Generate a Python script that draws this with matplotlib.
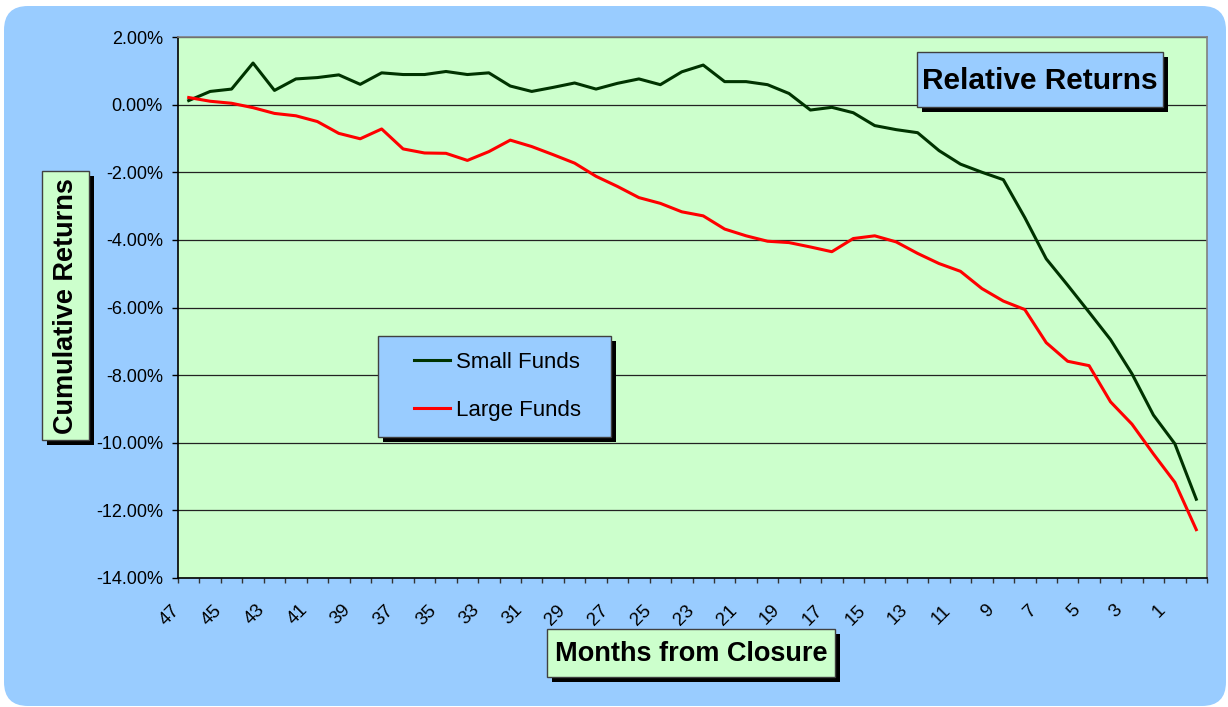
import numpy as np
import matplotlib
matplotlib.use("Agg")
import matplotlib.pyplot as plt
from matplotlib.patches import FancyBboxPatch, Rectangle
from matplotlib.transforms import ScaledTranslation

plt.rcParams['font.family'] = ['Liberation Sans', 'DejaVu Sans']

# ---------------------------
# data (cumulative returns, %), months counted down to closure
# ---------------------------
months = list(range(47, -1, -1))
small_funds = [0.12, 0.39, 0.46, 1.23, 0.42, 0.76, 0.80, 0.88, 0.60, 0.94,
               0.89, 0.89, 0.98, 0.89, 0.94, 0.55, 0.39, 0.51, 0.64, 0.46,
               0.63, 0.76, 0.59, 0.97, 1.17, 0.68, 0.68, 0.59, 0.33, -0.16,
               -0.08, -0.24, -0.62, -0.74, -0.83, -1.36, -1.76, -2.00, -2.22, -3.34,
               -4.56, -5.34, -6.14, -6.95, -7.96, -9.18, -10.03, -11.67]
large_funds = [0.21, 0.10, 0.04, -0.09, -0.26, -0.33, -0.50, -0.85, -1.01, -0.72,
               -1.31, -1.43, -1.44, -1.65, -1.39, -1.05, -1.24, -1.48, -1.73, -2.12,
               -2.42, -2.75, -2.92, -3.17, -3.29, -3.68, -3.88, -4.04, -4.08, -4.21,
               -4.35, -3.96, -3.88, -4.06, -4.40, -4.70, -4.93, -5.44, -5.81, -6.06,
               -7.04, -7.59, -7.72, -8.79, -9.45, -10.33, -11.17, -12.57]
y_ticks = [2, 0, -2, -4, -6, -8, -10, -12, -14]
series_names = ["Small Funds", "Large Funds"]
title = "Relative Returns"
x_title = "Months from Closure"
y_title = "Cumulative Returns"

BLUE = '#99CCFF'
PLOT_BG = '#CCFFCC'
GREEN = '#003300'
RED = '#FF0000'

W, H = 1228, 707
fig = plt.figure(figsize=(W / 100, H / 100), dpi=100)
fig.patch.set_facecolor('white')

# background in pixel coordinates
bg = fig.add_axes([0, 0, 1, 1], zorder=0)
bg.set_xlim(0, W)
bg.set_ylim(H, 0)
bg.axis('off')
bg.add_patch(FancyBboxPatch((4, 6), 1222, 700,
                            boxstyle='round,pad=0,rounding_size=24',
                            fc=BLUE, ec='none'))

# ---------------------------
# main plot
# ---------------------------
left, right, top, bottom = 178, 1207, 37, 578
ax = fig.add_axes([left / W, 1 - bottom / H, (right - left) / W, (bottom - top) / H], zorder=2)
ax.set_facecolor(PLOT_BG)

x = np.arange(len(months))
l1, = ax.plot(x, small_funds, color=GREEN, lw=2.2, label=series_names[0], zorder=3)
l2, = ax.plot(x, large_funds, color=RED, lw=2.2, label=series_names[1], zorder=3)

ax.set_xlim(-0.5, len(months) - 0.5)
ax.set_ylim(min(y_ticks), max(y_ticks))
ax.set_yticks(y_ticks)
ax.set_yticklabels([f"{v:.2f}%" for v in y_ticks], fontsize=13)
ax.grid(axis='y', color='#222222', lw=0.9)
ax.set_axisbelow(True)

# tick marks between categories, labels on every other month
ax.set_xticks(np.arange(-0.5, len(months), 1.0))
ax.set_xticklabels([])
lab_idx = [i for i, m in enumerate(months) if m % 2 == 1]
ax.set_xticks(lab_idx, minor=True)
ax.set_xticklabels([str(months[i]) for i in lab_idx], minor=True,
                   rotation=45, ha='right', va='top', fontsize=13.5)
ax.tick_params(axis='x', which='major', length=3.6, width=1, color='#333333', direction='out')
ax.tick_params(axis='x', which='minor', length=0, pad=17)
ax.tick_params(axis='y', length=4.3, width=1, pad=6.5)
shift = ScaledTranslation(-6 / 100, 0, fig.dpi_scale_trans)
for lbl in ax.get_xticklabels(minor=True):
    lbl.set_transform(lbl.get_transform() + shift)

for s in ['left', 'bottom']:
    ax.spines[s].set_color('black')
    ax.spines[s].set_linewidth(1.2)
for s in ['top', 'right']:
    ax.spines[s].set_color('#808080')
    ax.spines[s].set_linewidth(1.2)

# ---------------------------
# boxed titles and legend (overlay, pixel coordinates)
# ---------------------------
ov = fig.add_axes([0, 0, 1, 1], zorder=3)
ov.set_xlim(0, W)
ov.set_ylim(H, 0)
ov.axis('off')
ov.patch.set_visible(False)


def shadow_box(x0, y0, w, h, fc):
    ov.add_patch(Rectangle((x0 + 5, y0 + 5), w, h, fc='black', ec='none', zorder=1))
    ov.add_patch(Rectangle((x0, y0), w, h, fc=fc, ec='#404040', lw=1, zorder=2))


shadow_box(917, 52, 246, 55, BLUE)
ov.text(917 + 123, 52 + 29, title, ha='center', va='center',
        fontsize=21.5, fontweight='bold', zorder=3)

shadow_box(42, 171, 47, 269, PLOT_BG)
ov.text(42 + 24, 171 + 135, y_title, ha='center', va='center', rotation=90,
        fontsize=19.5, fontweight='bold', zorder=3)

shadow_box(547, 629, 288, 48, PLOT_BG)
ov.text(547 + 144, 629 + 25, x_title, ha='center', va='center',
        fontsize=19.5, fontweight='bold', zorder=3)

shadow_box(378, 336, 233, 101, BLUE)
ov.legend(handles=[l1, l2], loc='upper left',
          bbox_to_anchor=(414 / W, 1 - 352 / H), bbox_transform=fig.transFigure,
          frameon=False, borderpad=0, borderaxespad=0, fontsize=16,
          handlelength=1.6, handletextpad=0.28, labelspacing=1.22)

fig.savefig('out.png', dpi=100)
